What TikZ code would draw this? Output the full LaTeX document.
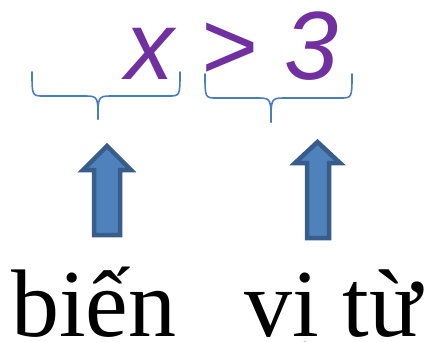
\documentclass[tikz,border=0pt]{standalone}
\usepackage{fontspec}
\setmainfont{Liberation Serif}
\newfontfamily\arialf{Liberation Sans}
\definecolor{purp}{HTML}{7030A0}
\definecolor{brc}{HTML}{4A7EBB}
\definecolor{arfill}{HTML}{4F81BD}
\definecolor{arline}{HTML}{385D8A}
\tikzset{
  bracestyle/.style={draw=brc, line width=1.6pt, line cap=round, line join=round},
  arrowstyle/.style={draw=arline, fill=arfill, line width=4.5pt, line join=miter},
  mathtxt/.style={inner sep=0pt, anchor=base west, text=purp, font=\arialf\itshape\fontsize{97}{100}\selectfont},
  wordtxt/.style={inner sep=0pt, anchor=base west, text=black, font=\fontsize{96}{110}\selectfont}
}
\begin{document}
\begin{tikzpicture}[x=1pt,y=-1pt]
\useasboundingbox (0,0) rectangle (428,341);
% formula
\node[mathtxt] (formula) at (125,79) {x > 3};
% left brace
\draw[bracestyle] (32,72) .. controls (32,96) and (32,96) .. (44,96) -- (86,96)
  .. controls (98,96) and (98,98) .. (98,119);
\draw[bracestyle] (180,72) .. controls (180,96) and (180,96) .. (168,96) -- (110,96)
  .. controls (98,96) and (98,98) .. (98,119);
% right brace
\draw[bracestyle] (205,74) .. controls (205,98) and (205,98) .. (217,98) -- (259,98)
  .. controls (271,98) and (271,100) .. (271,122);
\draw[bracestyle] (352,74) .. controls (352,98) and (352,98) .. (340,98) -- (283,98)
  .. controls (271,98) and (271,100) .. (271,122);
% arrows
\draw[arrowstyle] (107,146) -- (131,170) -- (120,170) -- (120,235) -- (94,235) -- (94,170) -- (83,170) -- cycle;
\draw[arrowstyle] (317.5,142) -- (340,163) -- (329,163) -- (329,238) -- (307,238) -- (307,163) -- (295,163) -- cycle;
% words
\node[wordtxt] (bien) at (11,336) {biến};
\node[wordtxt] (vitu) at (244,336) {vị từ};
\end{tikzpicture}
\end{document}
